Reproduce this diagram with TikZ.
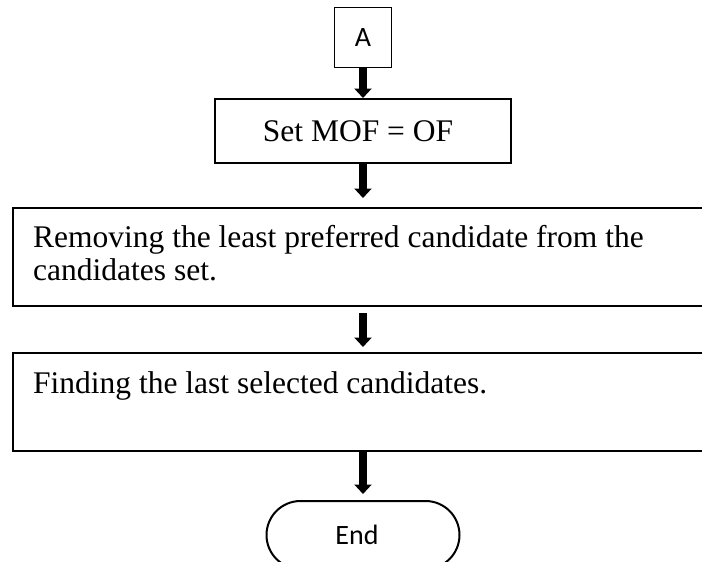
\documentclass[tikz,border=0pt]{standalone}
\usepackage{fontspec}
\setmainfont{Liberation Serif}
\newfontfamily\calfont{Carlito}
\usetikzlibrary{arrows.meta,shapes.misc}
\begin{document}
\begin{tikzpicture}[x=1pt,y=-1pt,
  box/.style={draw, line width=2.2pt, rectangle, inner sep=0pt},
  bigserif/.style={font=\fontsize{31.5}{32.5}\selectfont},
  bigsans/.style={font=\calfont\fontsize{28}{32}\selectfont},
  boxtext/.style={bigserif, inner sep=0pt, align=left, anchor=base west},
  flowarrow/.style={line width=7.5pt, -{Triangle[width=17pt,length=9.5pt]}},
]
\useasboundingbox (0,0) rectangle (702,562);
\clip (0,0) rectangle (702,562);

% connector label box and process boxes
\node[draw, line width=1.3pt, inner sep=0pt, minimum width=57pt, minimum height=60pt,
      anchor=north, bigsans] (a) at (363,7) {A};
\node[box, minimum width=296pt, minimum height=64pt, anchor=north] (set) at (363,98) {};
\node[bigserif, inner sep=0pt] (settext) at ([xshift=-5pt]set.center) {Set MOF = OF};
\node[box, minimum width=720pt, minimum height=98pt, anchor=north west] (rem) at (12,207) {};
% the base anchor of a two-line node sits on its last line
\node[boxtext] (remtext) at (33,280)
      {Removing the least preferred candidate from the\\candidates set.};
\node[box, minimum width=720pt, minimum height=98pt, anchor=north west] (find) at (12,352) {};
\node[boxtext] (findtext) at (33,393) {Finding the last selected candidates.};

% terminator
\node[draw, line width=2pt, rounded rectangle, inner sep=0pt, minimum width=193pt,
      minimum height=68pt, anchor=north] (end) at (363,500) {};
\node[bigsans, inner sep=0pt] (endtext) at ([xshift=-6pt]end.center) {End};

% flow arrows
\draw[flowarrow] (a.south) -- (set.north);
\draw[flowarrow, shorten >=9pt] (set.south) -- (set.south |- rem.north);
\draw[flowarrow, shorten <=6pt, shorten >=5pt] (set.south |- rem.south) -- (set.south |- find.north);
\draw[flowarrow, shorten >=6pt] (end.north |- find.south) -- (end.north);
\end{tikzpicture}
\end{document}
